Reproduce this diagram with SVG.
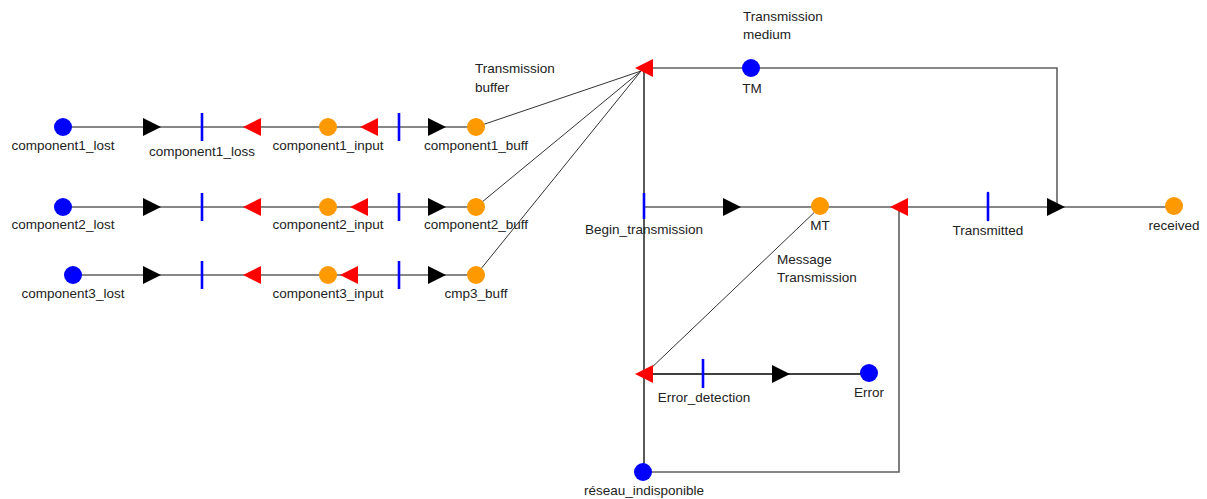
<svg xmlns="http://www.w3.org/2000/svg" width="1207" height="499" viewBox="0 0 1207 499">
<style>
text{font-family:"Liberation Sans",Arial,sans-serif;font-size:13.5px;fill:#222}
.m{text-anchor:middle}
.g{stroke:#5f5f5f;stroke-width:1.6;fill:none}
.k{stroke:#000;stroke-width:1.3;fill:none}
.d{stroke:#333;stroke-width:1;fill:none}
.pb{fill:#0000ff}
.po{fill:#ff9900}
.t{stroke:#0000ff;stroke-width:2.6}
.ab{fill:#000}
.ar{fill:#ff0000}
</style>
<defs>
<polygon id="R" points="0,-9 18,0 0,9"/>
<polygon id="L" points="0,0 18,-9 18,9"/>
</defs>
<rect width="1207" height="499" fill="#fff"/>
<g id="connectors">
<line class="g" x1="63" y1="127" x2="476" y2="127"/>
<line class="g" x1="63" y1="207" x2="476" y2="207"/>
<line class="g" x1="73" y1="275" x2="476" y2="275"/>
<line class="d" x1="476" y1="127" x2="641" y2="71"/>
<line class="d" x1="476" y1="207" x2="641" y2="71"/>
<line class="d" x1="476" y1="275" x2="641" y2="71"/>
<polyline class="g" points="644,68 1057,68 1057,207"/>
<line class="k" x1="644" y1="68" x2="644" y2="472"/>
<line class="g" x1="644" y1="207" x2="1174" y2="207"/>
<polyline class="g" points="899,207 899,472 644,472"/>
<line class="d" x1="820" y1="207" x2="647" y2="372"/>
<line class="k" x1="644" y1="374" x2="869" y2="374"/>
<use href="#R" class="ab" x="143" y="127"/>
<use href="#L" class="ar" x="243" y="127"/>
<use href="#L" class="ar" x="360" y="127"/>
<use href="#R" class="ab" x="428" y="127"/>
<use href="#R" class="ab" x="143" y="207"/>
<use href="#L" class="ar" x="243" y="207"/>
<use href="#L" class="ar" x="350" y="207"/>
<use href="#R" class="ab" x="428" y="207"/>
<use href="#R" class="ab" x="143" y="275"/>
<use href="#L" class="ar" x="243" y="275"/>
<use href="#L" class="ar" x="340" y="275"/>
<use href="#R" class="ab" x="428" y="275"/>
<use href="#L" class="ar" x="635" y="68"/>
<use href="#R" class="ab" x="723" y="207"/>
<use href="#L" class="ar" x="890" y="207"/>
<use href="#R" class="ab" x="1047" y="207"/>
<use href="#L" class="ar" x="635" y="374"/>
<use href="#R" class="ab" x="772" y="374"/>
</g>
<g id="component1_lost"><circle class="pb" cx="63" cy="127" r="9"/><text class="m" x="63" y="150">component1_lost</text></g>
<g id="component1_loss"><line class="t" x1="202" y1="113" x2="202" y2="141"/><text class="m" x="202" y="156">component1_loss</text></g>
<g id="component1_input"><circle class="po" cx="328" cy="127" r="9"/><text class="m" x="328" y="150">component1_input</text></g>
<g id="t_c1_in"><line class="t" x1="399" y1="113" x2="399" y2="141"/></g>
<g id="component1_buff"><circle class="po" cx="476" cy="127" r="9"/><text class="m" x="476" y="150">component1_buff</text></g>
<g id="component2_lost"><circle class="pb" cx="63" cy="207" r="9"/><text class="m" x="63" y="229">component2_lost</text></g>
<g id="t_c2_loss"><line class="t" x1="202" y1="193" x2="202" y2="221"/></g>
<g id="component2_input"><circle class="po" cx="328" cy="207" r="9"/><text class="m" x="328" y="229">component2_input</text></g>
<g id="t_c2_in"><line class="t" x1="399" y1="193" x2="399" y2="221"/></g>
<g id="component2_buff"><circle class="po" cx="476" cy="207" r="9"/><text class="m" x="476" y="229">component2_buff</text></g>
<g id="component3_lost"><circle class="pb" cx="73" cy="275" r="9"/><text class="m" x="73" y="298">component3_lost</text></g>
<g id="t_c3_loss"><line class="t" x1="202" y1="261" x2="202" y2="289"/></g>
<g id="component3_input"><circle class="po" cx="328" cy="275" r="9"/><text class="m" x="328" y="298">component3_input</text></g>
<g id="t_c3_in"><line class="t" x1="399" y1="261" x2="399" y2="289"/></g>
<g id="cmp3_buff"><circle class="po" cx="476" cy="275" r="9"/><text class="m" x="476" y="298">cmp3_buff</text></g>
<g id="transmission_buffer"><text x="475" y="73">Transmission</text><text x="475" y="91.5">buffer</text></g>
<g id="TM"><circle class="pb" cx="751" cy="68" r="9"/><text class="m" x="752" y="92.5">TM</text><text x="743" y="21">Transmission</text><text x="743" y="39">medium</text></g>
<g id="Begin_transmission"><line class="t" x1="644" y1="193" x2="644" y2="219" stroke-width="3"/><text class="m" x="644" y="234">Begin_transmission</text></g>
<g id="MT"><circle class="po" cx="820" cy="206" r="9"/><text class="m" x="820" y="229.5">MT</text><text x="777" y="264">Message</text><text x="777" y="282">Transmission</text></g>
<g id="Transmitted"><line class="t" x1="988" y1="193" x2="988" y2="220" stroke-width="4" stroke-linecap="round"/><text class="m" x="988" y="235">Transmitted</text></g>
<g id="received"><circle class="po" cx="1174" cy="206" r="9"/><text class="m" x="1174" y="229.5">received</text></g>
<g id="Error_detection"><line class="t" x1="703" y1="359" x2="703" y2="388"/><text class="m" x="704" y="402">Error_detection</text></g>
<g id="Error"><circle class="pb" cx="869" cy="373" r="9"/><text class="m" x="869" y="397">Error</text></g>
<g id="reseau_indisponible"><circle class="pb" cx="643" cy="472" r="9"/><text class="m" x="644" y="495">réseau_indisponible</text></g>
</svg>
